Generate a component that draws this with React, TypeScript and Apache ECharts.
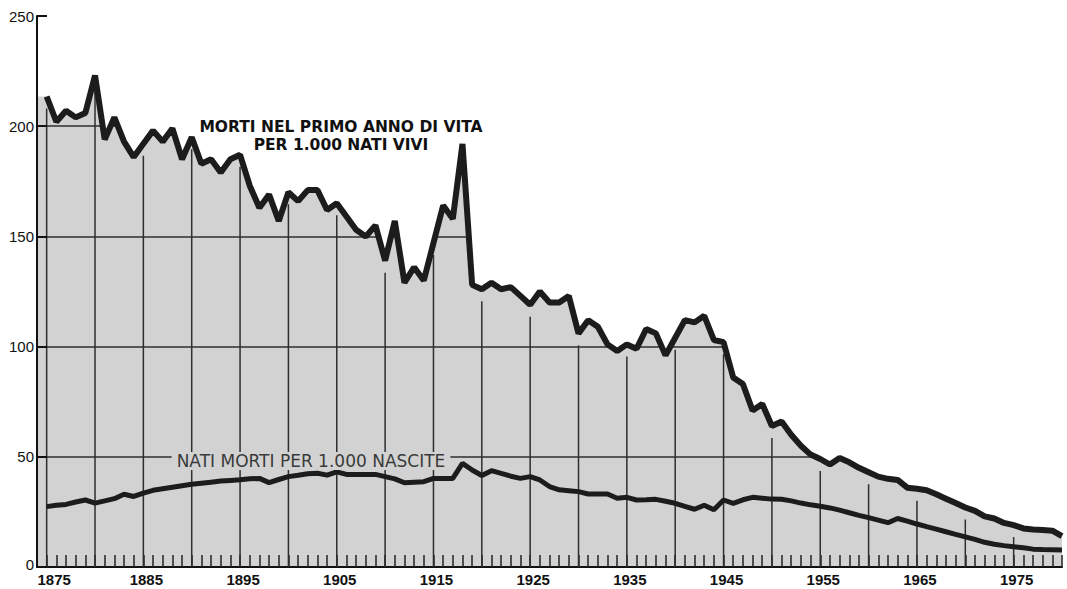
import React, { useEffect, useRef } from "react";
import * as echarts from "echarts";

const startYear = 1875;
const endYear = 1980;
const axisStartYear = 1874;

// Morti nel primo anno di vita per 1.000 nati vivi (1875–1980)
const infantMortality = [
  213.5, 202, 207, 204, 206, 223, 194, 204, 193, 186,
  192, 198, 193, 199, 185, 195, 183, 185, 179, 185,
  187, 173, 163, 169, 157, 170, 166, 171, 171, 162,
  165, 159, 153, 150, 155, 139, 157, 129, 136, 130,
  147, 164, 158, 192, 128, 126, 129, 126, 127, 123,
  119, 125, 120, 120, 123, 106, 112, 109, 101, 98,
  101, 99, 108, 106, 96, 104, 112, 111, 114, 103,
  102, 86, 83, 71, 74, 64, 66, 60, 55, 51,
  49, 46.5, 49.5, 47.5, 45, 43, 41, 40, 39.5, 36,
  35.5, 34.8, 33, 31, 29, 27, 25.5, 23, 22, 20,
  19, 17.5, 17, 16.8, 16.5, 14,
];

// Nati morti per 1.000 nascite (1875–1980)
const stillbirths = [
  27.4, 28, 28.4, 29.5, 30.4, 29, 30, 31, 33, 32,
  33.5, 34.8, 35.5, 36.2, 36.9, 37.5, 38, 38.5, 39, 39.3,
  39.6, 40, 40.2, 38.3, 39.7, 41, 41.6, 42.3, 42.5, 41.7,
  43.2, 42, 42, 42, 42, 41, 40, 38.2, 38.5, 38.7,
  40.2, 40.2, 40.2, 47, 44, 41.5, 43.7, 42.5, 41.2, 40.2,
  41, 39.5, 36.5, 35, 34.6, 34.2, 33.1, 33.1, 33.1, 31.2,
  31.6, 30.4, 30.5, 30.7, 29.8, 28.9, 27.5, 26.2, 28, 26,
  30.4, 28.9, 30.5, 31.6, 31.2, 30.8, 30.7, 30, 29, 28.2,
  27.6, 26.8, 25.8, 24.6, 23.4, 22.4, 21.3, 20.1, 22, 20.8,
  19.5, 18.3, 17.2, 16, 14.8, 13.7, 12.5, 11.2, 10.3, 9.7,
  9.2, 8.7, 8.1, 7.9, 7.8, 7.7,
];

const gridYears = [
  1875, 1880, 1885, 1890, 1895, 1900, 1905, 1910, 1915, 1920, 1925,
  1930, 1935, 1940, 1945, 1950, 1955, 1960, 1965, 1970, 1975,
];
const labelYears = [1875, 1885, 1895, 1905, 1915, 1925, 1935, 1945, 1955, 1965, 1975];
const yTicks = [0, 50, 100, 150, 200, 250];

const infantLabel = "MORTI NEL PRIMO ANNO DI VITA\nPER 1.000 NATI VIVI";
const stillLabel = "NATI MORTI PER 1.000 NASCITE";

const years = infantMortality.map((_, i) => startYear + i);

export default function App() {
  const ref = useRef<HTMLDivElement>(null);

  useEffect(() => {
    if (!ref.current) return;
    const chart = echarts.init(ref.current, null, { renderer: "svg" });
    const yMax = yTicks[yTicks.length - 1];
    const grey = "#d2d2d2";
    const ink = "#1c1c1c";
    const labelFont = {
      color: "#111",
      fontFamily: "Liberation Sans, Arial, sans-serif",
      fontWeight: "bold" as const,
      fontSize: 15,
    };

    const option: any = {
      animation: false,
      backgroundColor: "#ffffff",
      grid: {
        left: 37,
        right: 5,
        top: 16,
        bottom: 22,
        show: true,
        backgroundColor: grey,
        borderWidth: 0,
      },
      xAxis: {
        type: "value",
        min: axisStartYear,
        max: endYear,
        interval: 1,
        axisLine: { show: true, lineStyle: { color: "#111", width: 2 } },
        axisTick: { show: true, inside: true, length: 12, lineStyle: { color: "#222", width: 1.5 } },
        axisLabel: {
          show: true,
          margin: 5,
          formatter: (v: number) => {
            if (!labelYears.includes(v)) return "";
            return v === labelYears[0] ? `{first|${v}}` : `{n|${v}}`;
          },
          rich: {
            first: { ...labelFont, padding: [0, 0, 0, 15] },
            n: { ...labelFont, padding: [0, 0, 0, 6] },
          },
        },
        splitLine: { show: false },
      },
      yAxis: [
        {
          type: "value",
          min: 0,
          max: yMax,
          interval: 50,
          position: "left",
          axisLine: { show: false },
          axisTick: { show: false },
          axisLabel: { show: false },
          splitLine: { show: true, lineStyle: { color: "#2e2e2e", width: 1.5 } },
        },
        {
          type: "value",
          min: 0,
          max: yMax,
          interval: 50,
          position: "left",
          z: 10,
          axisLine: { show: true, lineStyle: { color: "#111", width: 2 } },
          axisTick: { show: true, inside: true, length: 10, lineStyle: { color: "#111", width: 2 } },
          axisLabel: {
            show: true,
            margin: 3,
            color: "#111",
            fontFamily: "Liberation Sans, Arial, sans-serif",
            fontSize: 15,
            formatter: (v: number) => (v === 0 ? "{z|0}" : String(v)),
            rich: {
              z: {
                color: "#111",
                fontFamily: "Liberation Sans, Arial, sans-serif",
                fontSize: 15,
                padding: [0, 0, 6, 0],
              },
            },
          },
          splitLine: { show: false },
        },
      ],
      series: [
        {
          type: "custom",
          name: "vgrid",
          z: 2,
          silent: true,
          clip: false,
          encode: { x: 0, y: 1 },
          data: gridYears.map((y) => [y, infantMortality[y - startYear]]),
          renderItem: (params: any, api: any) => {
            const x = api.value(0);
            const v = api.value(1);
            const p0 = api.coord([x, 0]);
            const p1 = api.coord([x, v]);
            return {
              type: "line",
              shape: { x1: p0[0], y1: p0[1], x2: p1[0], y2: p1[1] + 12 },
              style: { stroke: "#2e2e2e", lineWidth: 1.5 },
            };
          },
        },
        {
          type: "custom",
          name: "cover",
          z: 3,
          silent: true,
          clip: false,
          encode: { x: 0, y: 1 },
          data: [[startYear, 0]],
          renderItem: (params: any, api: any) => {
            const pts: number[][] = [];
            pts.push(api.coord([axisStartYear - 0.2, yMax + 3]));
            pts.push(api.coord([axisStartYear - 0.2, infantMortality[0]]));
            years.forEach((y, i) => pts.push(api.coord([y, infantMortality[i]])));
            pts.push(api.coord([endYear + 0.6, infantMortality[infantMortality.length - 1]]));
            pts.push(api.coord([endYear + 0.6, yMax + 3]));
            return {
              type: "polygon",
              shape: { points: pts },
              style: { fill: "#ffffff", stroke: null },
            };
          },
        },
        {
          type: "line",
          name: "Nati morti",
          z: 4,
          showSymbol: false,
          symbol: "none",
          data: years.map((y, i) => [y, stillbirths[i]]),
          lineStyle: { color: ink, width: 5 },
        },
        {
          type: "line",
          name: "Morti primo anno",
          z: 5,
          showSymbol: false,
          symbol: "none",
          data: years.map((y, i) => [y, infantMortality[i]]),
          lineStyle: { color: ink, width: 6 },
        },
      ],
      graphic: [
        {
          type: "text",
          x: 341,
          y: 118,
          z: 20,
          style: {
            text: infantLabel,
            align: "center",
            verticalAlign: "top",
            fontFamily: "DejaVu Sans, sans-serif",
            fontWeight: "bold",
            fontSize: 15.5,
            lineHeight: 18,
            fill: "#111",
          },
        },
        {
          type: "text",
          x: 311,
          y: 461,
          z: 20,
          style: {
            text: stillLabel,
            align: "center",
            verticalAlign: "middle",
            fontFamily: "DejaVu Sans, sans-serif",
            fontSize: 17,
            fill: "#3a3a3a",
            backgroundColor: grey,
            padding: [1, 5, 0, 5],
          },
        },
      ],
    };

    chart.setOption(option);
    return () => chart.dispose();
  }, []);

  return (
    <div
      ref={ref}
      style={{ position: "absolute", left: 0, top: 0, width: 1067, height: 589, background: "#fff" }}
    />
  );
}
